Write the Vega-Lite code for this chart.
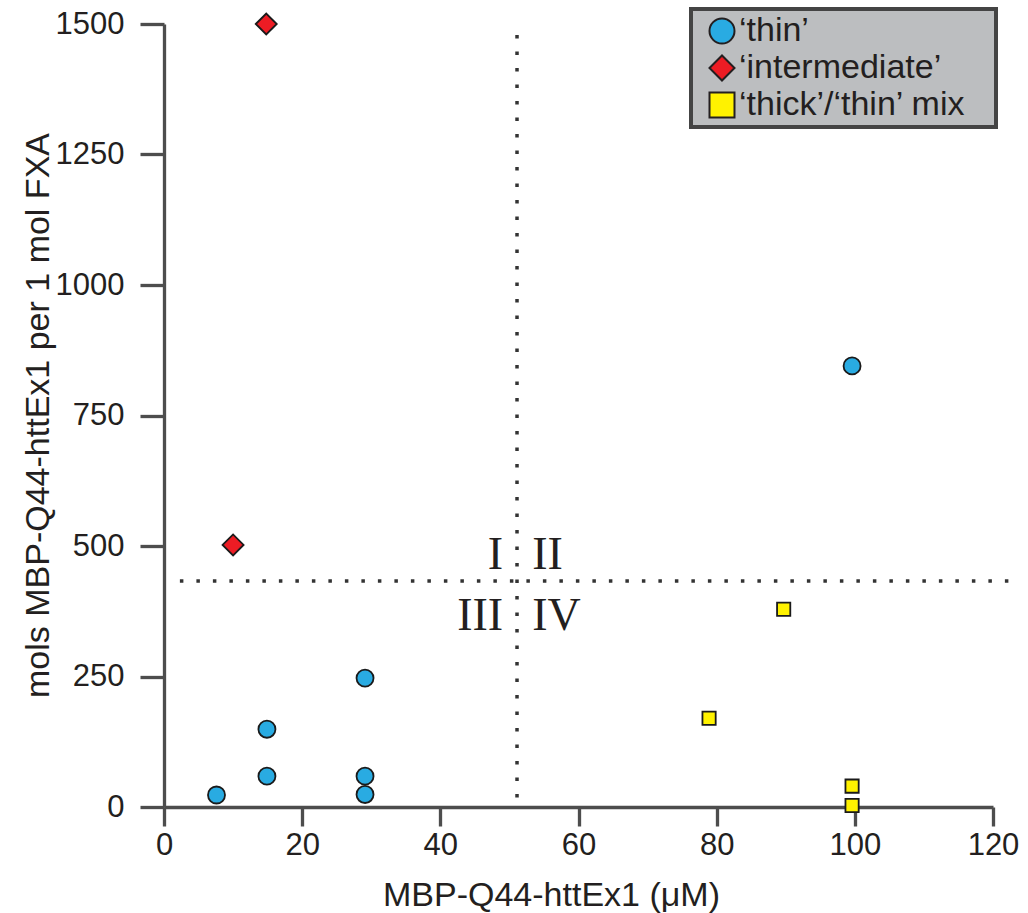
{
  "$schema": "https://vega.github.io/schema/vega-lite/v6.json",
  "width": 829,
  "height": 783,
  "autosize": "none",
  "padding": {"left": 164, "top": 24, "right": 35, "bottom": 106},
  "background": "white",
  "datasets": {
    "points": [
      {"x": 7.6, "y": 23, "type": "thin"},
      {"x": 14.9, "y": 59, "type": "thin"},
      {"x": 14.9, "y": 149, "type": "thin"},
      {"x": 29.1, "y": 59, "type": "thin"},
      {"x": 29.1, "y": 24, "type": "thin"},
      {"x": 29.1, "y": 247, "type": "thin"},
      {"x": 99.6, "y": 845, "type": "thin"},
      {"x": 14.8, "y": 1500, "type": "intermediate"},
      {"x": 10.0, "y": 502, "type": "intermediate"},
      {"x": 78.9, "y": 170, "type": "mix"},
      {"x": 89.7, "y": 379, "type": "mix"},
      {"x": 99.6, "y": 40, "type": "mix"},
      {"x": 99.6, "y": 3, "type": "mix"}
    ],
    "lines": [
      {"x1": 51.1, "x2": 51.1, "y1": 1479, "y2": 0},
      {"x1": 2.3, "x2": 123.2, "y1": 433, "y2": 433}
    ],
    "quadLeft": [
      {"q": "I", "x": 49.1, "y": 456},
      {"q": "III", "x": 49.1, "y": 339}
    ],
    "quadRight": [
      {"q": "II", "x": 53.3, "y": 456},
      {"q": "IV", "x": 53.3, "y": 339}
    ]
  },
  "layer": [
    {
      "data": {"name": "lines"},
      "mark": {"type": "rule", "color": "#333333", "strokeWidth": 3.5, "strokeDash": [3.5, 13]},
      "encoding": {
        "x": {"field": "x1", "type": "quantitative", "scale": {"domain": [0, 120], "nice": false, "zero": false}},
        "x2": {"field": "x2"},
        "y": {"field": "y1", "type": "quantitative", "scale": {"domain": [0, 1500], "nice": false, "zero": false}},
        "y2": {"field": "y2"}
      }
    },
    {
      "data": {"name": "quadLeft"},
      "mark": {"type": "text", "font": "Liberation Serif", "fontSize": 46, "align": "right", "baseline": "alphabetic", "color": "#231f20"},
      "encoding": {
        "x": {"field": "x", "type": "quantitative"},
        "y": {"field": "y", "type": "quantitative"},
        "text": {"field": "q"}
      }
    },
    {
      "data": {"name": "quadRight"},
      "mark": {"type": "text", "font": "Liberation Serif", "fontSize": 46, "align": "left", "baseline": "alphabetic", "color": "#231f20"},
      "encoding": {
        "x": {"field": "x", "type": "quantitative"},
        "y": {"field": "y", "type": "quantitative"},
        "text": {"field": "q"}
      }
    },
    {
      "data": {"name": "points"},
      "mark": {"type": "point", "filled": true, "opacity": 1, "stroke": "#1a1a1a", "strokeWidth": 1.8},
      "encoding": {
        "x": {
          "field": "x", "type": "quantitative",
          "axis": {
            "values": [0, 20, 40, 60, 80, 100, 120],
            "title": "MBP-Q44-httEx1 (μM)",
            "tickSize": 19,
            "labelPadding": 4,
            "titleX": 387,
            "titleY": 98,
            "titleAlign": "center",
            "titleBaseline": "alphabetic"
          }
        },
        "y": {
          "field": "y", "type": "quantitative",
          "axis": {
            "values": [0, 250, 500, 750, 1000, 1250, 1500],
            "format": "d",
            "title": "mols MBP-Q44-httEx1 per 1 mol FXA",
            "tickSize": 24,
            "labelPadding": 16,
            "titleX": -126,
            "titleY": 391,
            "titleAngle": -90,
            "titleAlign": "center",
            "titleBaseline": "middle"
          }
        },
        "color": {
          "field": "type", "type": "nominal",
          "scale": {"domain": ["thin", "intermediate", "mix"], "range": ["#29abe2", "#ed1c24", "#fff200"]},
          "legend": {
            "title": null,
            "labelExpr": "(datum.value === 'thin' ? '‘thin’' : datum.value === 'intermediate' ? '‘intermediate’' : '‘thick’/‘thin’ mix') + '\u2800'",
            "encode": {
              "symbols": {"update": {"size": {"signal": "datum.value === 'thin' ? 360 : datum.value === 'intermediate' ? 680 : 256"}}},
              "legend": {"update": {"strokeWidth": {"value": 4}}}
            }
          }
        },
        "shape": {
          "field": "type", "type": "nominal",
          "scale": {"domain": ["thin", "intermediate", "mix"], "range": ["circle", "diamond", "square"]}
        },
        "size": {
          "condition": [
            {"test": "datum.type === 'thin'", "value": 290},
            {"test": "datum.type === 'intermediate'", "value": 441}
          ],
          "value": 175
        }
      }
    }
  ],
  "config": {
    "font": "Liberation Sans",
    "view": {"stroke": null},
    "axis": {
      "grid": false,
      "domainColor": "#4d4d4d",
      "domainWidth": 3.3,
      "tickColor": "#4d4d4d",
      "tickWidth": 3.3,
      "labelFont": "Liberation Sans",
      "labelFontSize": 31,
      "labelColor": "#231f20",
      "titleFont": "Liberation Sans",
      "titleFontSize": 34,
      "titleFontWeight": "normal",
      "titleColor": "#231f20",
      "labelFlush": false,
      "labelOverlap": false
    },
    "legend": {
      "orient": "none",
      "legendX": 527,
      "legendY": -15,
      "fillColor": "#bcbec0",
      "strokeColor": "#444444",
      "strokeWidth": 4,
      "padding": 5,
      "symbolSize": 625,
      "symbolOffset": 9,
      "symbolStrokeColor": "#231f20",
      "symbolStrokeWidth": 2,
      "labelFont": "Liberation Sans",
      "labelFontSize": 34,
      "labelColor": "#231f20",
      "labelOffset": 0,
      "labelLimit": 400,
      "rowPadding": 3
    }
  }
}
